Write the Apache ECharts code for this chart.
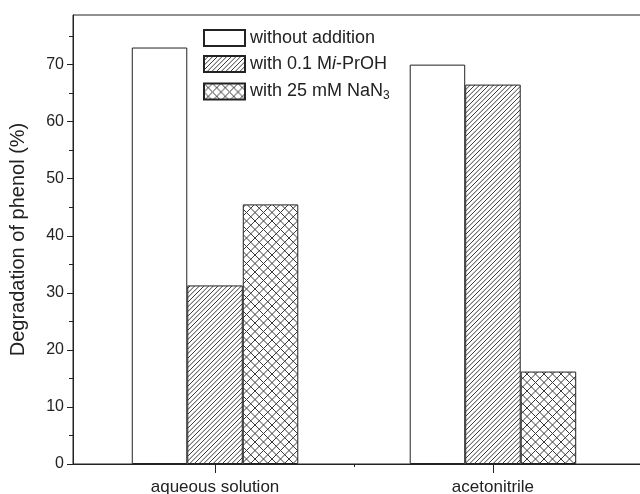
<!DOCTYPE html>
<html>
<head>
<meta charset="utf-8">
<script src="https://cdn.jsdelivr.net/npm/echarts@6/dist/echarts.min.js"></script>
<style>html,body{margin:0;padding:0;background:#fff;}#c{width:640px;height:494px;}</style>
</head>
<body>
<div id="c"></div>
<script>
// ---- data ----
const categories = ['aqueous solution', 'acetonitrile'];
const categoryPositions = [1, 2];
const seriesNames = ['without addition', 'with 0.1 M{i|i}-PrOH', 'with 25 mM NaN{sub|3}'];
const withoutAddition = [73.0, 70.0];
const withIPrOH = [31.3, 66.5];
const withNaN3 = [45.5, 16.2];
const yTickValues = [0, 10, 20, 30, 40, 50, 60, 70];
const yMinorTickValues = [5, 15, 25, 35, 45, 55, 65, 75];

function hatchPattern() {
  const s = 14, h = s / 3;
  const c = document.createElement('canvas');
  c.width = s; c.height = s;
  const g = c.getContext('2d');
  g.fillStyle = '#fff'; g.fillRect(0, 0, s, s);
  g.strokeStyle = '#3a3a3a'; g.lineWidth = 1;
  for (let k = -4; k <= 4; k++) {
    g.beginPath(); g.moveTo(k * h, s); g.lineTo(k * h + s, 0); g.stroke();
  }
  return c;
}
function crossPattern() {
  const s = 17, h = s / 2;
  const c = document.createElement('canvas');
  c.width = s; c.height = s;
  const g = c.getContext('2d');
  g.fillStyle = '#fff'; g.fillRect(0, 0, s, s);
  g.strokeStyle = '#3a3a3a'; g.lineWidth = 1;
  for (let k = -3; k <= 3; k++) {
    g.beginPath(); g.moveTo(k * h, s); g.lineTo(k * h + s, 0); g.stroke();
    g.beginPath(); g.moveTo(k * h, 0); g.lineTo(k * h + s, s); g.stroke();
  }
  return c;
}

const FONT = 'Liberation Sans, Arial, sans-serif';
const chart = echarts.init(document.getElementById('c'), null, {renderer: 'canvas'});
const pair = (vals) => vals.map((v, i) => [categoryPositions[i], v]);
const barStyle = (color) => ({color: color, borderColor: '#222', borderWidth: 1});

chart.setOption({
  animation: false,
  backgroundColor: '#fff',
  grid: {left: 73, top: 15, width: 577, height: 449, containLabel: false, outerBoundsMode: 'none',
    show: true, borderColor: '#222', borderWidth: 1, backgroundColor: 'transparent'},
  legend: {
    orient: 'vertical', left: 198, top: 24, itemWidth: 41, itemHeight: 16, itemGap: 8,
    icon: 'rect',
    textStyle: {fontFamily: FONT, fontSize: 18, lineHeight: 16, color: '#222',
      rich: {
        i: {fontFamily: FONT, fontSize: 18, lineHeight: 16, fontStyle: 'italic', color: '#222'},
        sub: {fontFamily: FONT, fontSize: 12, lineHeight: 16, color: '#222', padding: [9, 0, 0, 0]}
      }
    },
    data: seriesNames
  },
  xAxis: [{
    type: 'value', min: 0.489, max: 2.565,
    axisLine: {show: true, lineStyle: {color: '#222', width: 1}},
    axisTick: {show: true, length: 9, inside: false, customValues: categoryPositions, lineStyle: {color: '#222'}},
    axisLabel: {show: true, customValues: categoryPositions, margin: 15,
      fontFamily: FONT, fontSize: 17, color: '#222',
      formatter: (v) => { const i = categoryPositions.indexOf(Math.round(v)); return i >= 0 ? categories[i] : ''; }},
    splitLine: {show: false}
  }, {
    type: 'value', min: 0.489, max: 2.565, position: 'bottom',
    axisLine: {show: false},
    axisTick: {show: true, length: 3, customValues: [1.5], lineStyle: {color: '#222'}},
    axisLabel: {show: false},
    splitLine: {show: false}
  }],
  yAxis: [{
    type: 'value', min: 0, max: 78.7,
    name: 'Degradation of phenol (%)', nameLocation: 'middle', nameGap: 45,
    nameTextStyle: {fontFamily: FONT, fontSize: 20, color: '#222'},
    axisLine: {show: true, lineStyle: {color: '#222', width: 1}},
    axisTick: {show: true, length: 6, customValues: yTickValues, lineStyle: {color: '#222'}},
    axisLabel: {show: true, customValues: yTickValues, margin: 9,
      fontFamily: FONT, fontSize: 16, color: '#222'},
    splitLine: {show: false}
  }, {
    type: 'value', min: 0, max: 78.7, position: 'left',
    axisLine: {show: false},
    axisTick: {show: true, length: 4, customValues: yMinorTickValues, lineStyle: {color: '#222'}},
    axisLabel: {show: false},
    splitLine: {show: false}
  }],
  series: [
    {name: seriesNames[0], type: 'bar', barWidth: 55.5, barGap: '0%', data: pair(withoutAddition), itemStyle: barStyle('#fff')},
    {name: seriesNames[1], type: 'bar', barWidth: 55.5, barGap: '0%', data: pair(withIPrOH), itemStyle: barStyle({image: hatchPattern(), repeat: 'repeat'})},
    {name: seriesNames[2], type: 'bar', barWidth: 55.5, barGap: '0%', data: pair(withNaN3), itemStyle: barStyle({image: crossPattern(), repeat: 'repeat'})}
  ]
});
</script>
</body>
</html>
